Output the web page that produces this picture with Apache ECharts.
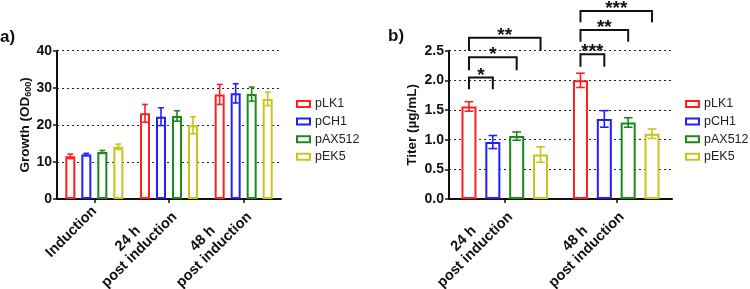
<!DOCTYPE html>
<html>
<head>
<meta charset="utf-8">
<script src="https://cdn.jsdelivr.net/npm/echarts@6/dist/echarts.min.js"></script>
<style>
html,body{margin:0;padding:0;background:#fff;}
#c{width:750px;height:289px;}
</style>
</head>
<body>
<div id="c"></div>
<script>
// ---------- DATA ----------
const seriesNames = ['pLK1', 'pCH1', 'pAX512', 'pEK5'];

// Panel a: growth (OD600)
const growthCategories = ['Induction', '24 h\npost induction', '48 h\npost induction'];
const growth_pLK1   = [11.5, 23.1, 28.2];
const growth_pCH1   = [12.0, 22.2, 28.5];
const growth_pAX512 = [12.7, 22.4, 28.3];
const growth_pEK5   = [14.1, 19.9, 27.0];
const growthErr_pLK1   = [0.6, 2.4, 2.7];
const growthErr_pCH1   = [0.3, 2.4, 2.6];
const growthErr_pAX512 = [0.4, 1.4, 1.9];
const growthErr_pEK5   = [0.7, 2.3, 1.8];
const growthTicks = [0, 10, 20, 30, 40];

// Panel b: titer (µg/mL)
const titerCategories = ['24 h\npost induction', '48 h\npost induction'];
const titer_pLK1   = [1.56, 2.00];
const titer_pCH1   = [0.96, 1.35];
const titer_pAX512 = [1.06, 1.29];
const titer_pEK5   = [0.75, 1.10];
const titerErr_pLK1   = [0.08, 0.12];
const titerErr_pCH1   = [0.11, 0.14];
const titerErr_pAX512 = [0.07, 0.08];
const titerErr_pEK5   = [0.13, 0.08];
const titerTicks = ['0.0', '0.5', '1.0', '1.5', '2.0', '2.5'];

// Significance brackets (panel b): category, from-series, to-series, bracket level, end level, label
const sigCategory = [0, 0, 0, 1, 1, 1];
const sigFrom     = [0, 0, 0, 0, 0, 0];
const sigTo       = [1, 2, 3, 1, 2, 3];
const sigLevel    = [2.05, 2.39, 2.72, 2.44, 2.85, 3.17];
const sigEnd      = [1.85, 2.17, 2.50, 2.23, 2.65, 2.98];
const sigLabel    = ['*', '*', '**', '***', '**', '***'];

// ---------- STYLE ----------
const colors = ['#ff1f1f', '#1f1fff', '#1a8a1a', '#c8c41c'];
const FONT = 'Liberation Sans, Arial, sans-serif';
const BAR_A = 10, GAP_A = 0.6;
const BAR_B = 15, GAP_B = 0.59;

const growthVals = [growth_pLK1, growth_pCH1, growth_pAX512, growth_pEK5];
const growthErrs = [growthErr_pLK1, growthErr_pCH1, growthErr_pAX512, growthErr_pEK5];
const titerVals = [titer_pLK1, titer_pCH1, titer_pAX512, titer_pEK5];
const titerErrs = [titerErr_pLK1, titerErr_pCH1, titerErr_pAX512, titerErr_pEK5];

const chart = echarts.init(document.getElementById('c'), null, {renderer: 'canvas'});

function xAxisCfg(cats, gi) {
  return {
    type: 'category', gridIndex: gi, data: cats,
    axisLine: {lineStyle: {color: '#111', width: 2}},
    axisTick: {show: true, alignWithLabel: true, length: 4, lineStyle: {color: '#111', width: 1.5}},
    axisLabel: {
      interval: 0, rotate: 45, margin: 10, color: '#111', hideOverlap: false,
      formatter: v => v.split('\n').map(l => '{c|' + l + '}').join('\n'),
      rich: {c: {align: 'center', fontFamily: FONT, fontWeight: 'bold', fontSize: 14.5, color: '#111', lineHeight: 16}}
    }
  };
}
function yAxisCfg(gi, max, interval, name, nameGap, rich, fmt) {
  return {
    type: 'value', gridIndex: gi, min: 0, max: max, interval: interval,
    name: name, nameLocation: 'middle', nameGap: nameGap,
    nameTextStyle: {fontFamily: FONT, fontWeight: 'bold', fontSize: 13.5, color: '#111', rich: rich},
    axisLine: {show: true, lineStyle: {color: '#111', width: 2}},
    axisTick: {show: true, length: 4, lineStyle: {color: '#111', width: 1.5}},
    axisLabel: {margin: 5, fontFamily: FONT, fontWeight: 'bold', fontSize: 14, color: '#111', formatter: fmt},
    splitLine: {show: true, lineStyle: {color: '#222', type: [2, 3], width: 1}}
  };
}

function barSeries(vals, gi, bw, gap) {
  return seriesNames.map((n, i) => ({
    type: 'bar', name: n, xAxisIndex: gi, yAxisIndex: gi,
    data: vals[i], barWidth: bw, barGap: (gap * 100) + '%',
    itemStyle: {color: '#fff', borderColor: colors[i], borderWidth: 2},
    emphasis: {disabled: true}, silent: true, z: 2
  }));
}

function errSeries(vals, errs, gi, bw, gap) {
  const data = [];
  vals.forEach((arr, s) => arr.forEach((v, c) => data.push([c, s, v - errs[s][c], v + errs[s][c]])));
  const step = bw * (1 + gap);
  const cap = bw * 0.58;
  return {
    type: 'custom', xAxisIndex: gi, yAxisIndex: gi, data: data, silent: true, z: 3,
    encode: {x: 0, y: [2, 3]},
    renderItem: (params, api) => {
      const c = api.value(0), s = api.value(1);
      const pLo = api.coord([c, api.value(2)]);
      const pHi = api.coord([c, api.value(3)]);
      const x = pLo[0] + (s - 1.5) * step;
      const st = {stroke: colors[s], lineWidth: 1.6, fill: null};
      return {type: 'group', children: [
        {type: 'line', shape: {x1: x, y1: pLo[1], x2: x, y2: pHi[1]}, style: st},
        {type: 'line', shape: {x1: x - cap / 2, y1: pHi[1], x2: x + cap / 2, y2: pHi[1]}, style: st},
        {type: 'line', shape: {x1: x - cap / 2, y1: pLo[1], x2: x + cap / 2, y2: pLo[1]}, style: st}
      ]};
    }
  };
}

const sigData = sigCategory.map((c, i) => [c, sigFrom[i], sigTo[i], sigLevel[i], sigEnd[i], i]);
const stepB = BAR_B * (1 + GAP_B);
const sigSeries = {
  type: 'custom', xAxisIndex: 1, yAxisIndex: 1, data: sigData, silent: true, clip: false, z: 4,
  encode: {x: 0, y: 3},
  renderItem: (params, api) => {
    const c = api.value(0);
    const p = api.coord([c, api.value(3)]);
    const pe = api.coord([c, api.value(4)]);
    const x1 = p[0] + (api.value(1) - 1.5) * stepB;
    const x2 = p[0] + (api.value(2) - 1.5) * stepB;
    const lbl = sigLabel[api.value(5)];
    return {type: 'group', children: [
      {type: 'polyline', shape: {points: [[x1, pe[1]], [x1, p[1]], [x2, p[1]], [x2, pe[1]]]},
       style: {stroke: '#111', lineWidth: 2, fill: null}},
      {type: 'text', style: {text: lbl, x: (x1 + x2) / 2, y: p[1] - 2, align: 'center', verticalAlign: 'middle',
        font: 'bold 19px ' + FONT, fill: '#111'}}
    ]};
  }
};

function legendCfg(left) {
  return {
    data: seriesNames.slice(), orient: 'vertical', left: left, top: 92,
    icon: 'rect', itemWidth: 13, itemHeight: 6, itemGap: 3.6,
    textStyle: {fontFamily: FONT, fontSize: 12.5, color: '#222', lineHeight: 14},
    selectedMode: false
  };
}

const option = {
  animation: false,
  backgroundColor: '#fff',
  grid: [
    {left: 57, top: 50.7, width: 224, height: 148.3, containLabel: false, outerBoundsMode: 'none'},
    {left: 449, top: 50.7, width: 223, height: 148.3, containLabel: false, outerBoundsMode: 'none'}
  ],
  legend: [legendCfg(291), legendCfg(680)],
  xAxis: [xAxisCfg(growthCategories, 0), xAxisCfg(titerCategories, 1)],
  yAxis: [
    yAxisCfg(0, growthTicks[growthTicks.length - 1], growthTicks[1] - growthTicks[0],
      '{n|Growth (OD}{s|600}{n|)}', 24,
      {n: {fontFamily: FONT, fontWeight: 'bold', fontSize: 13.5, color: '#111'},
       s: {fontFamily: FONT, fontWeight: 'bold', fontSize: 9, color: '#111', verticalAlign: 'bottom', padding: [5, 0, 0, 0]}},
      v => String(v)),
    yAxisCfg(1, parseFloat(titerTicks[titerTicks.length - 1]), parseFloat(titerTicks[1]), 'Titer (µg/mL)', 30, null,
      v => v.toFixed(1))
  ],
  graphic: [
    {type: 'text', left: 0, top: 29, style: {text: 'a)', font: 'bold 17px ' + FONT, fill: '#111'}},
    {type: 'text', left: 388, top: 28, style: {text: 'b)', font: 'bold 17px ' + FONT, fill: '#111'}}
  ],
  series: [].concat(
    barSeries(growthVals, 0, BAR_A, GAP_A),
    barSeries(titerVals, 1, BAR_B, GAP_B),
    [errSeries(growthVals, growthErrs, 0, BAR_A, GAP_A), errSeries(titerVals, titerErrs, 1, BAR_B, GAP_B), sigSeries]
  )
};
chart.setOption(option);
</script>
</body>
</html>
